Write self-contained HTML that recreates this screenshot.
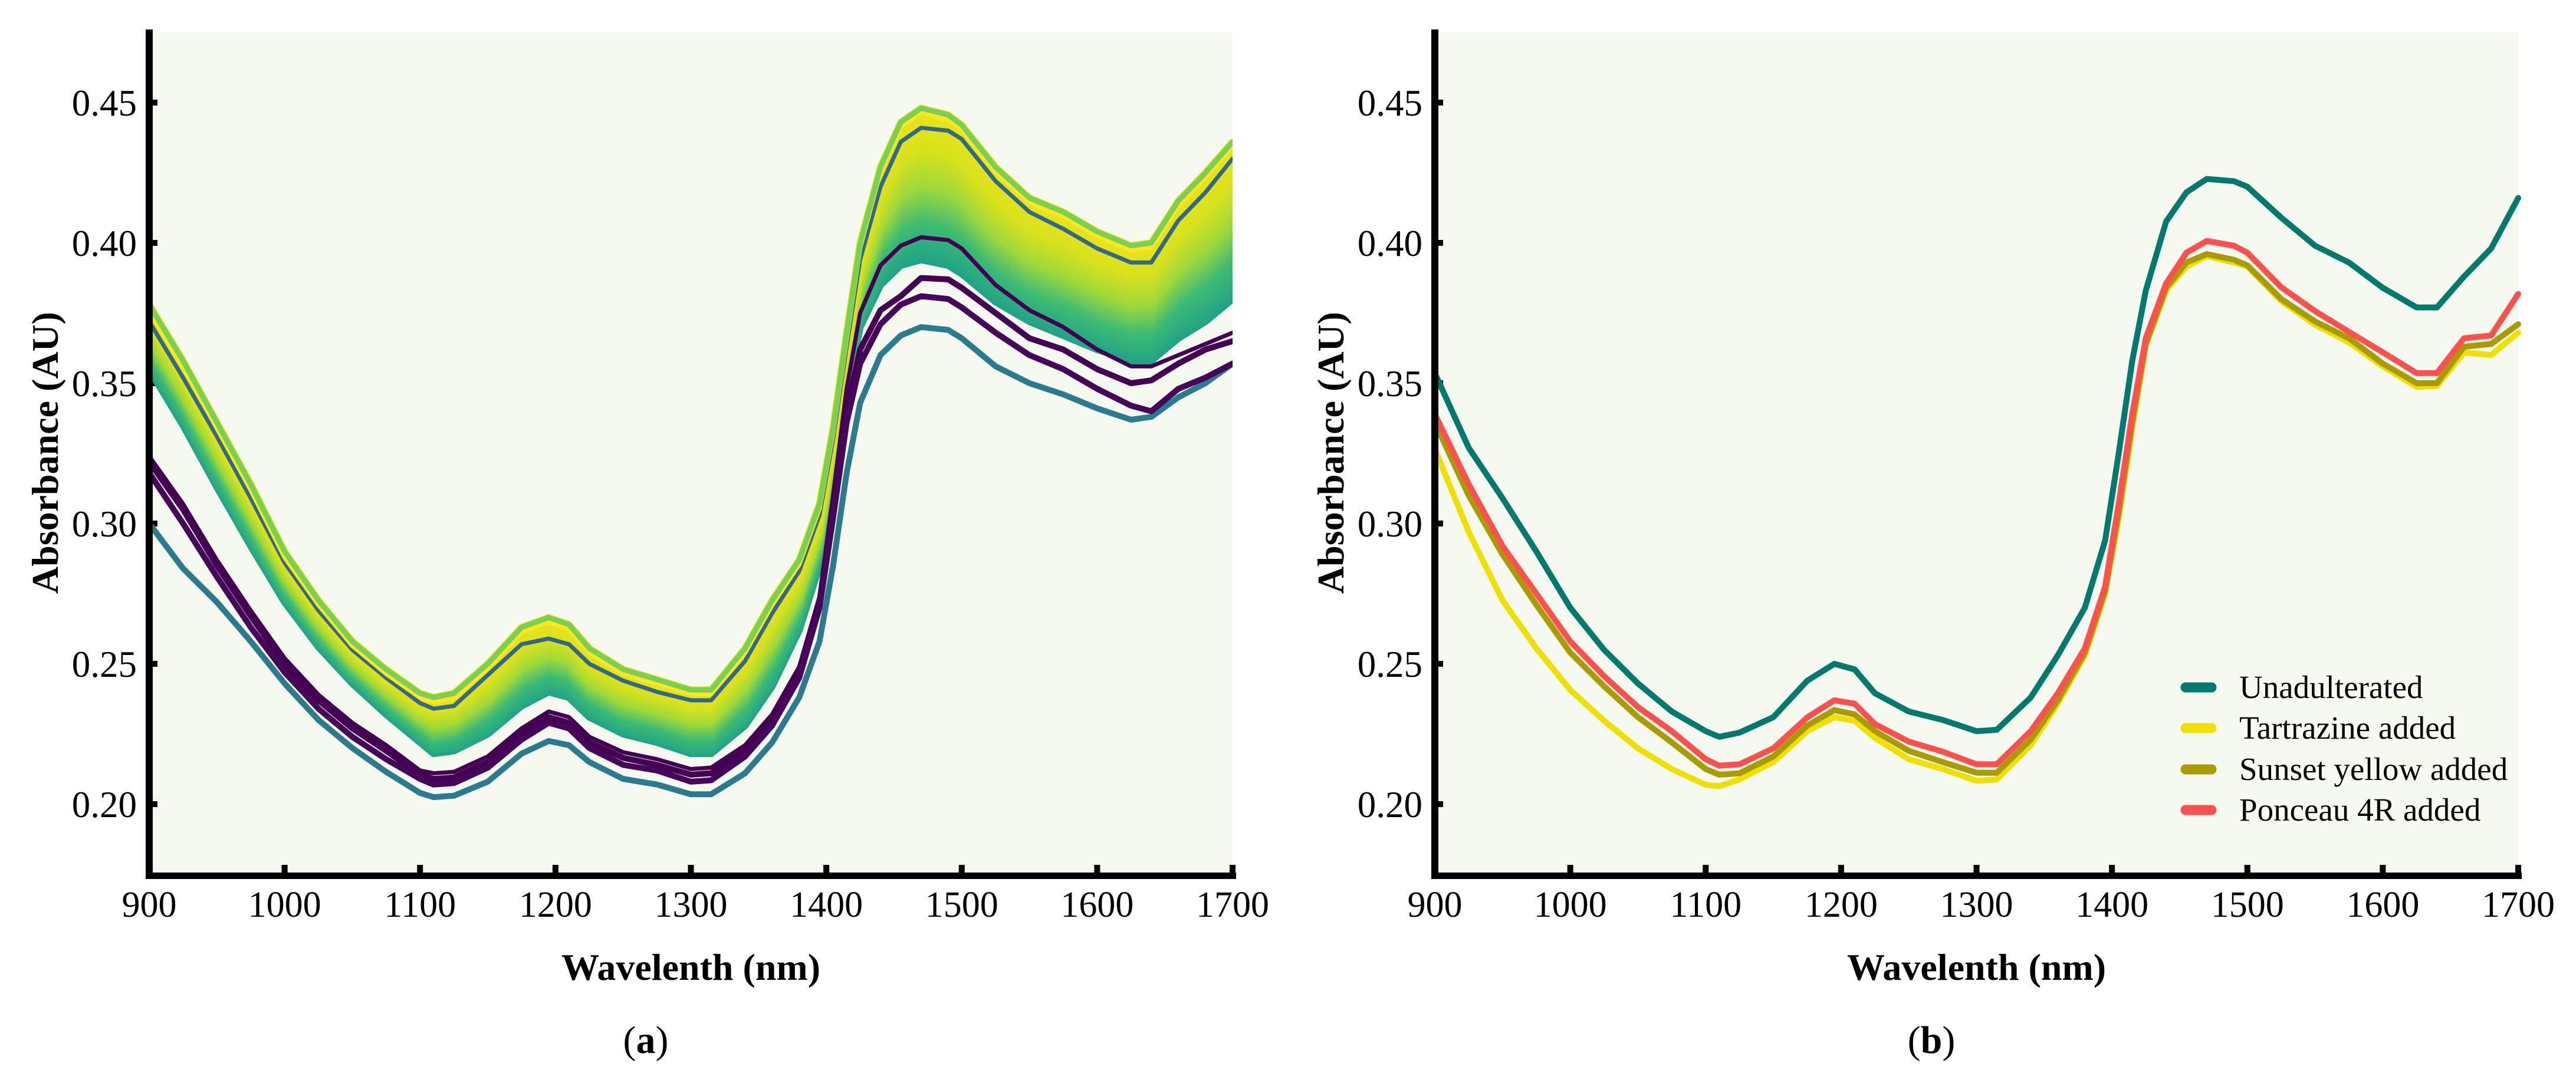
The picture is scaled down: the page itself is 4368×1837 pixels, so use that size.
<!DOCTYPE html>
<html>
<head>
<meta charset="utf-8">
<style>
html,body{margin:0;padding:0;background:#fff;}
svg{display:block;}
text{font-family:"Liberation Serif",serif;fill:#000;}
</style>
</head>
<body>
<svg id="fig" width="4368" height="1837" viewBox="0 0 4368 1837" xmlns="http://www.w3.org/2000/svg"></svg>
<script>
// ---- shared axis data ----
const wavelengths = [900,925,950,975,1000,1025,1050,1075,1100,1110,1125,1150,1175,1195,1210,1225,1250,1275,1300,1315,1340,1360,1380,1395,1405,1415,1425,1440,1455,1470,1490,1500,1525,1550,1575,1600,1625,1640,1660,1680,1700];
const xTicks = [900,1000,1100,1200,1300,1400,1500,1600,1700];
const yTicks = [0.20,0.25,0.30,0.35,0.40,0.45];
const yTickLabels = ["0.20","0.25","0.30","0.35","0.40","0.45"];

// ---- panel (a) data ----
const aTopGreen = [.378,.358,.336,.314,.290,.2726,.258,.248,.2395,.238,.2395,.250,.263,.2665,.264,.2555,.248,.2444,.2407,.2407,.2555,.2726,.287,.307,.334,.368,.400,.427,.443,.448,.4456,.442,.427,.416,.411,.404,.399,.400,.415,.425,.436];
const aYellow = [.376,.356,.334,.312,.288,.271,.2565,.2465,.238,.2365,.238,.2485,.2615,.265,.2625,.254,.2465,.243,.2393,.2393,.254,.271,.2855,.3055,.3325,.366,.3985,.4255,.4415,.4465,.444,.4405,.4255,.4145,.4095,.4025,.3975,.3985,.4135,.4235,.4345];
const aBandLower = [.355,.335,.313,.292,.272,.256,.243,.232,.222,.218,.219,.225,.235,.240,.238,.231,.225,.222,.218,.218,.228,.242,.262,.285,.315,.347,.370,.385,.392,.394,.392,.389,.379,.372,.367,.362,.358,.358,.366,.372,.380];
const aBlue = [.372,.352,.331,.309,.286,.269,.255,.245,.236,.234,.235,.246,.257,.259,.257,.250,.244,.240,.237,.237,.251,.268,.283,.303,.330,.363,.394,.420,.436,.441,.440,.437,.422,.411,.405,.398,.393,.393,.408,.418,.430];
const aPurple1 = [.322,.305,.285,.267,.250,.237,.227,.219,.2105,.209,.2095,.215,.225,.231,.229,.222,.2165,.214,.2105,.211,.219,.230,.247,.272,.305,.340,.362,.376,.381,.3875,.387,.384,.375,.366,.362,.355,.350,.351,.357,.362,.365];
const aPurple2 = [.318,.300,.281,.263,.247,.234,.224,.216,.209,.207,.2075,.213,.223,.229,.227,.220,.214,.212,.208,.2085,.217,.228,.245,.270,.302,.336,.357,.371,.378,.381,.380,.377,.368,.360,.355,.348,.342,.340,.348,.352,.357];
const aPurple3 = [.324,.307,.287,.269,.252,.239,.229,.221,.212,.211,.2115,.217,.227,.233,.231,.224,.2185,.216,.2125,.213,.221,.232,.249,.274,.310,.348,.375,.392,.399,.402,.401,.398,.385,.376,.370,.362,.356,.356,.360,.364,.368];
const aTealLow = [.300,.284,.272,.258,.243,.230,.220,.2115,.204,.2025,.203,.208,.218,.2225,.221,.215,.209,.207,.2035,.2035,.211,.222,.238,.258,.285,.318,.343,.360,.367,.370,.369,.366,.356,.350,.346,.341,.337,.338,.345,.350,.357];

// ---- panel (b) data ----
const seriesNames = ["Unadulterated","Tartrazine added","Sunset yellow added","Ponceau 4R added"];
const bUnadulterated = [.3536,.327,.309,.290,.270,.255,.243,.233,.226,.224,.2255,.231,.244,.250,.248,.2395,.233,.230,.226,.2265,.238,.253,.270,.294,.325,.358,.383,.4076,.418,.4228,.422,.420,.409,.399,.393,.384,.377,.377,.388,.398,.416];
const bTartrazine = [.3266,.297,.2726,.2555,.2407,.2297,.2199,.2125,.2069,.2064,.2088,.215,.226,.231,.2297,.2236,.216,.2125,.2083,.2088,.221,.2358,.253,.275,.302,.334,.3634,.383,.3916,.3953,.393,.3916,.3793,.3708,.3646,.356,.3487,.349,.361,.360,.368];
const bSunset = [.336,.310,.289,.271,.254,.242,.231,.222,.2125,.2105,.211,.217,.228,.2335,.232,.226,.219,.215,.2112,.2112,.223,.237,.254,.276,.304,.336,.364,.384,.393,.396,.394,.392,.380,.372,.366,.357,.350,.350,.363,.364,.371];
const bPonceau = [.339,.314,.292,.275,.258,.2456,.2346,.226,.216,.2137,.2142,.2199,.2309,.237,.2358,.2285,.2223,.2187,.2142,.2142,.226,.2395,.2555,.2775,.307,.339,.366,.3855,.3965,.4007,.399,.3965,.3842,.3757,.3683,.361,.3536,.3536,.366,.367,.3818];

const NS = "http://www.w3.org/2000/svg";
const svg = document.getElementById("fig");
function mk(tag, attrs, parent){
  const e = document.createElementNS(NS, tag);
  for (const k in attrs) e.setAttribute(k, attrs[k]);
  (parent||svg).appendChild(e);
  return e;
}
const Y0 = 174, YSTEP = 238;
function ys(v){ return Y0 + (0.45 - v) / 0.05 * YSTEP; }
function makeXs(x0, x1){ return w => x0 + (w - 900) / 800 * (x1 - x0); }
function pathD(xs, vals){
  return vals.map((v,i)=>(i?"L":"M")+xs(wavelengths[i]).toFixed(1)+","+ys(v).toFixed(1)).join("");
}
function lerpColor(c1, c2, t){
  const a = [1,3,5].map(i=>parseInt(c1.substr(i,2),16));
  const b = [1,3,5].map(i=>parseInt(c2.substr(i,2),16));
  return "rgb("+a.map((x,i)=>Math.round(x+(b[i]-x)*t)).join(",")+")";
}

function drawFrame(px0, px1, letter, g){
  const xs = makeXs(px0, px1);
  const bg = mk("rect",{x:px0+6,y:55,width:px1-px0-6,height:1425,fill:"#f6f9f0"},g);
  
  
  xTicks.forEach((t,i)=>{
    const tk = mk("rect",{x:xs(t)-5,y:1467,width:10,height:14,fill:"#000"},g);
    
    
    const tl = mk("text",{x:xs(t),y:1555,"font-size":62,"text-anchor":"middle"},g);
    
    
    tl.textContent = String(t);
  });
  yTicks.forEach((t,i)=>{
    const tk = mk("rect",{x:px0,y:ys(t)-5,width:14,height:10,fill:"#000"},g);
    
    
    const tl = mk("text",{x:px0-21,y:ys(t)+22,"font-size":63,"text-anchor":"end"},g);
    
    
    tl.textContent = yTickLabels[i];
  });
  const xt = mk("text",{x:(px0+px1)/2,y:1662,"font-size":64,"font-weight":"bold","text-anchor":"middle"},g);
  
  
  xt.textContent = "Wavelenth (nm)";
  const yt = mk("text",{x:0,y:0,"font-size":64,"font-weight":"bold","text-anchor":"middle",transform:"translate("+(px0-155)+",768) rotate(-90)"},g);
  
  
  yt.textContent = "Absorbance (AU)";
  const pl = mk("text",{x:px0+842,y:1786,"font-size":66,"text-anchor":"middle"},g);
  
  
  pl.innerHTML = '(<tspan font-weight="bold">'+letter+'</tspan>)';
  return xs;
}
function drawAxes(px0, px1, g){
  const ya = mk("rect",{x:px0-6,y:50,width:12,height:1441,fill:"#000"},g);
  
  
  const xa = mk("rect",{x:px0-6,y:1480,width:px1-px0+12,height:11,fill:"#000"},g);
  
  
}

// ---------- Panel (a) ----------
const gA = mk("g",{});


const AX0 = 253, AX1 = 2090;
const xsA = drawFrame(AX0, AX1, "a", gA);
const cp = mk("clipPath",{id:"clipA"},gA);
mk("rect",{x:AX0,y:40,width:AX1-AX0,height:1440},cp);
const linesA = mk("g",{"clip-path":"url(#clipA)"},gA);


function lineA(vals, color, name, w){
  const p = mk("path",{d:pathD(xsA, vals),fill:"none",stroke:color,"stroke-width":w||9,"stroke-linejoin":"round","stroke-linecap":"round"},linesA);
  
  
  return p;
}
lineA(aTealLow, "#2a7b8e", "spectrum-teal-low", 10);
const bandSteps = 44;
const stops = ["#21a386","#3dbb74","#9fd93a","#d8e21c","#e8e419"];
for (let k = 0; k <= bandSteps; k++){
  const t = k / bandSteps;
  const vals = aBandLower.map((v,i)=> v + (aTopGreen[i]-v)*t);
  const s = Math.min(t*4, 3.999), j = Math.floor(s);
  const col = lerpColor(stops[j], stops[j+1], s-j);
  const p = mk("path",{d:pathD(xsA, vals),fill:"none",stroke:col,"stroke-width":12,"stroke-linejoin":"round"},linesA);
  
  
}
lineA(aPurple3, "#440154", "spectrum-purple-3", 7);
lineA(aPurple1, "#440154", "spectrum-purple-1", 10);
lineA(aPurple2, "#46075a", "spectrum-purple-2", 10);
lineA(aBlue, "#31688e", "spectrum-blue", 7);
lineA(aYellow, "#fde725", "spectrum-yellow", 8);
lineA(aTopGreen, "#7ad151", "spectrum-top-green");
drawAxes(AX0, AX1, gA);

// ---------- Panel (b) ----------
const gB = mk("g",{});


const BX0 = 2433, BX1 = 4270;
const xsB = drawFrame(BX0, BX1, "b", gB);
const bSeries = [bUnadulterated, bTartrazine, bSunset, bPonceau];
const bColors = ["#007a6c","#f0e000","#a89c00","#ff5050"];
[0,1,2,3].forEach(i=>{
  const p = mk("path",{d:pathD(xsB, bSeries[i]),fill:"none",stroke:bColors[i],"stroke-width":10,"stroke-linejoin":"round","stroke-linecap":"round"},gB);
  
  
});
drawAxes(BX0, BX1, gB);
const legend = mk("g",{},gB);


const legY = [1166,1235,1305,1374];
seriesNames.forEach((n,i)=>{
  const ln = mk("line",{x1:3706,x2:3750,y1:legY[i],y2:legY[i],stroke:bColors[i],"stroke-width":17,"stroke-linecap":"round"},legend);
  
  
  const tx = mk("text",{x:3797,y:legY[i]+18,"font-size":55},legend);
  
  
  tx.textContent = n;
});
</script>
</body>
</html>
